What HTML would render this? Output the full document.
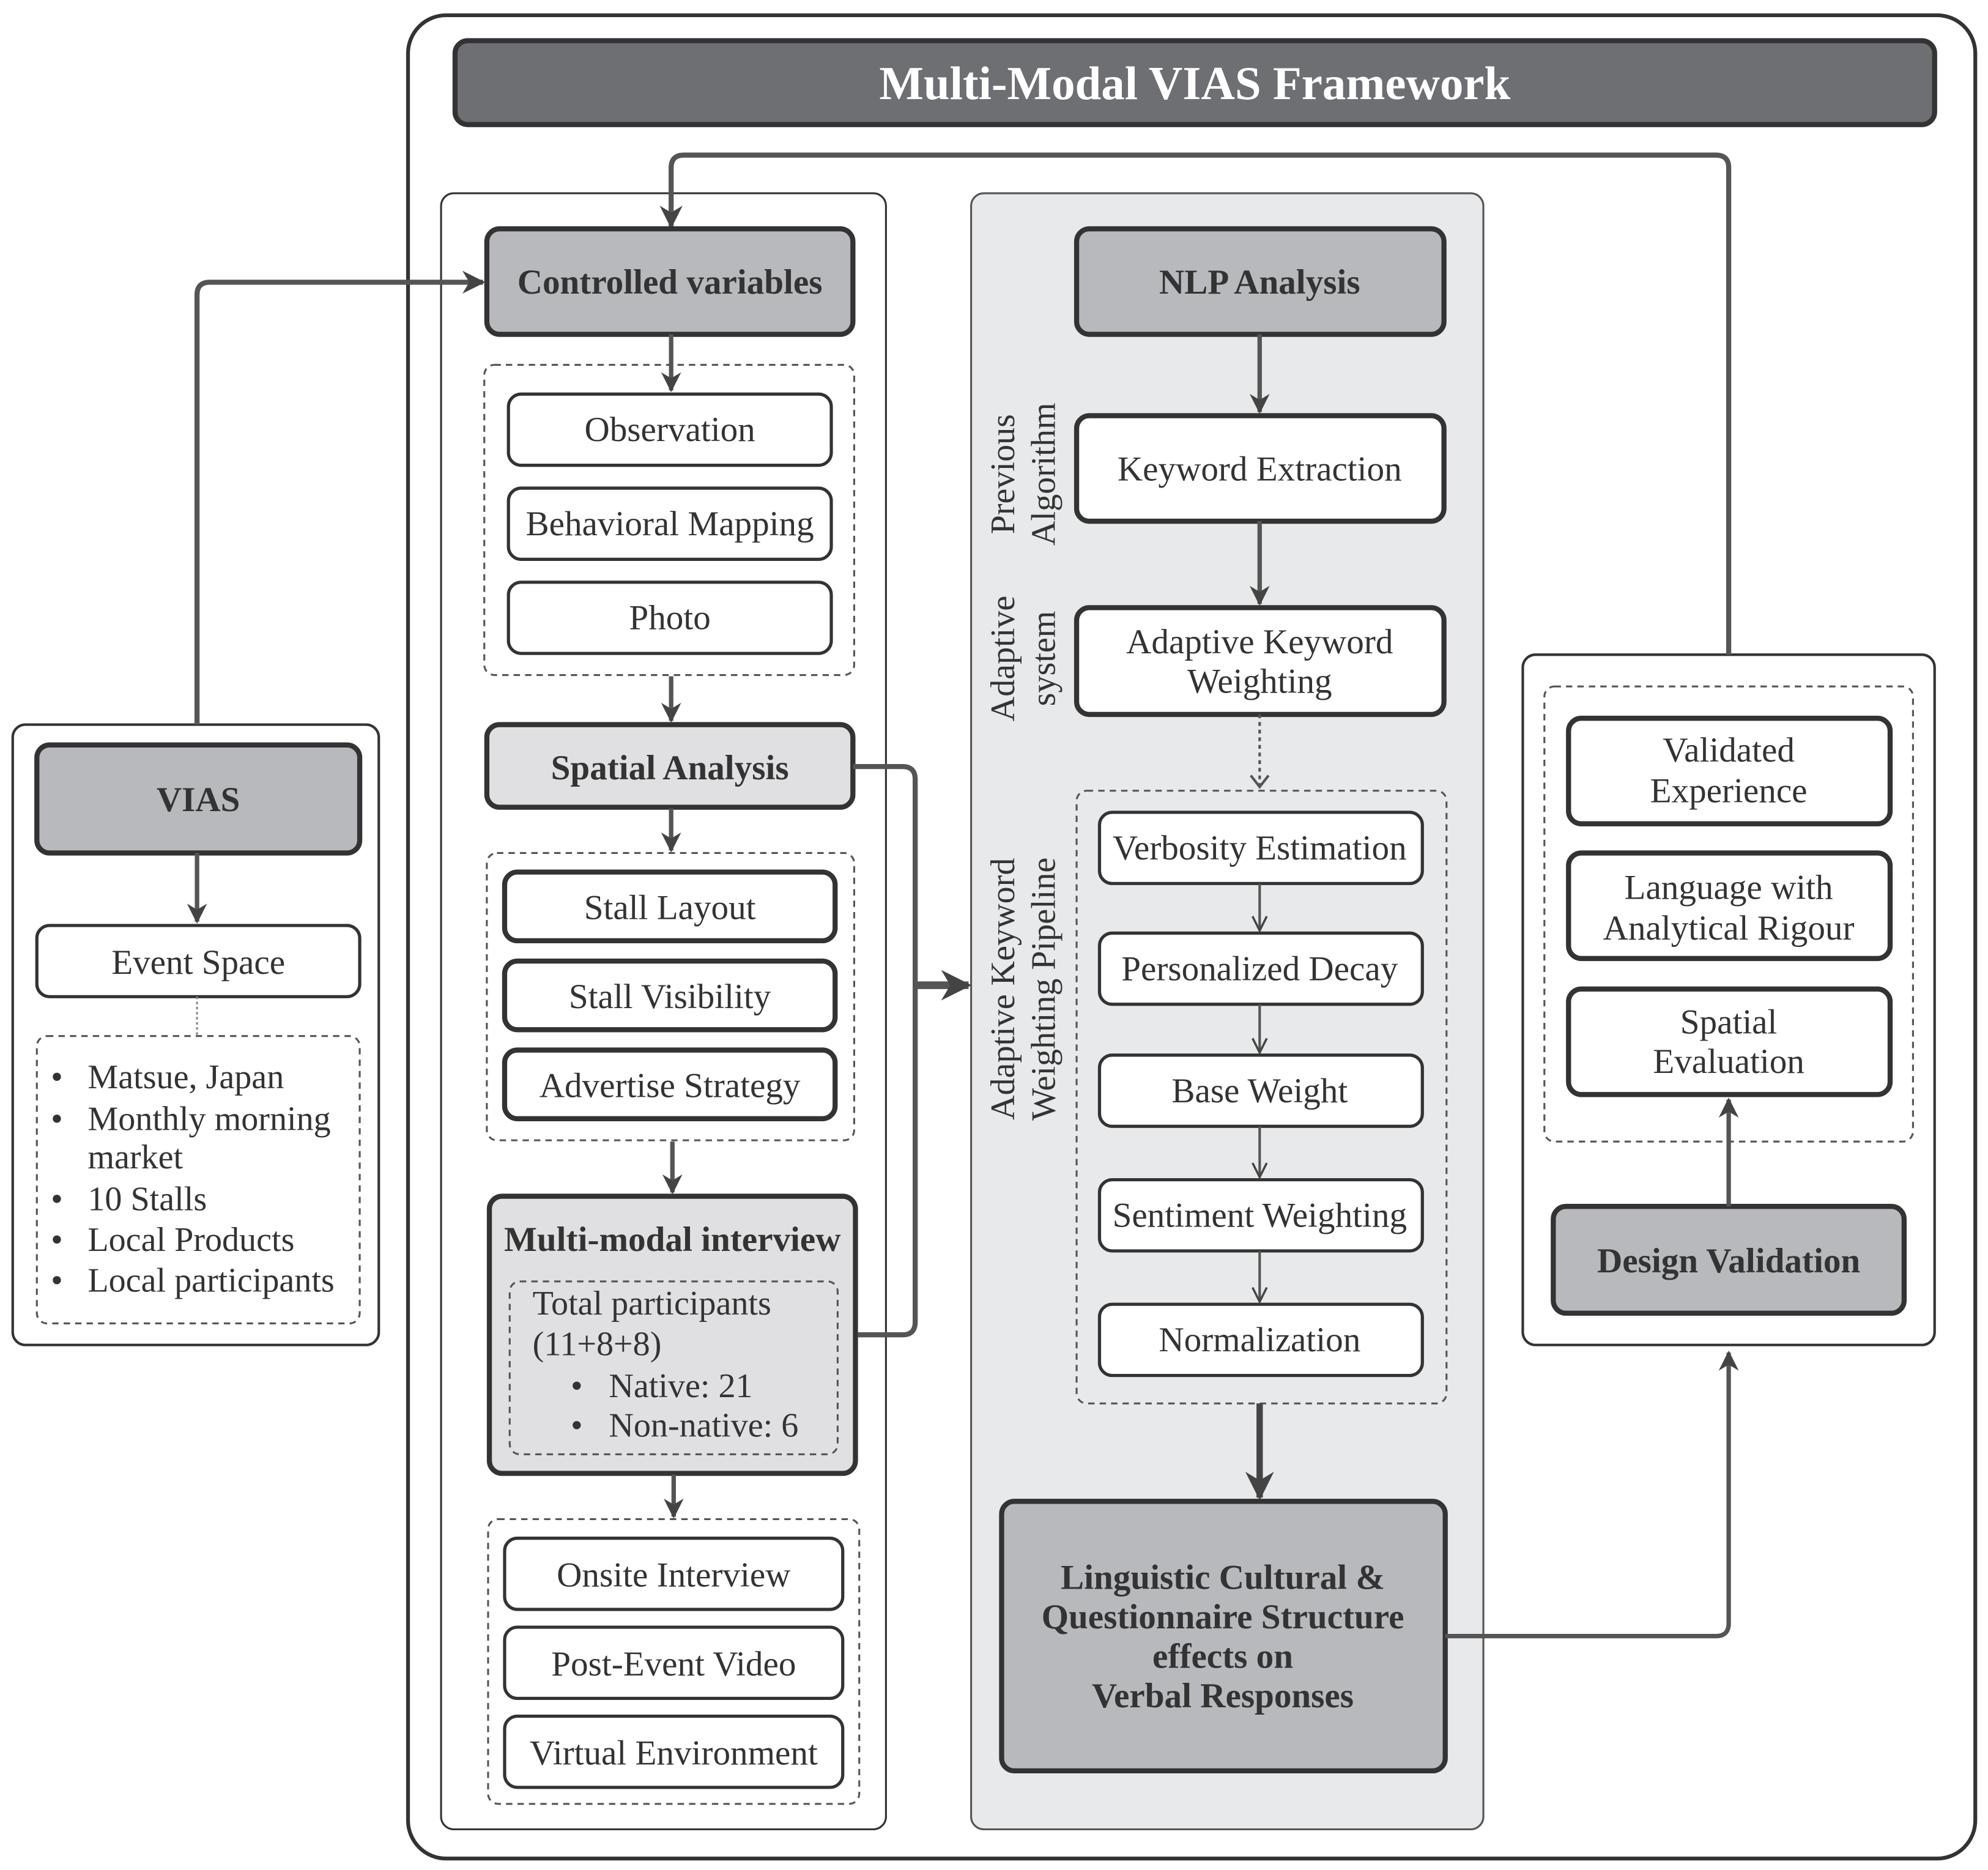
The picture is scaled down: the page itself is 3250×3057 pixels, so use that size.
<!DOCTYPE html>
<html><head><meta charset="utf-8"><style>html,body{margin:0;padding:0;background:#fff}svg{display:block}text{font-family:"Liberation Serif",serif}</style></head>
<body>
<svg width="3250" height="3057" viewBox="0 0 1564 1471" preserveAspectRatio="none" xmlns="http://www.w3.org/2000/svg">
<defs>
<marker id="a" viewBox="0 0 10 10" refX="9" refY="5" markerWidth="4.5" markerHeight="4.5" orient="auto"><path d="M0,0 L10,5 L0,10 L3,5 Z" fill="#444"/></marker>
<marker id="b" viewBox="0 0 10 10" refX="9" refY="5" markerWidth="4" markerHeight="4" orient="auto"><path d="M0,0 L10,5 L0,10 L3,5 Z" fill="#444"/></marker>
<marker id="c" viewBox="0 0 10 10" refX="9" refY="5" markerWidth="7" markerHeight="7" orient="auto"><path d="M1,1 L9,5 L1,9" fill="none" stroke="#444" stroke-width="1.2"/></marker>
</defs>
<rect x="321" y="12" width="1233" height="1450" rx="30" fill="#fff" stroke="#333" stroke-width="3"/>
<rect x="358" y="32" width="1164" height="66" rx="10" fill="#6e6f73" stroke="#333" stroke-width="4"/>
<text x="940" y="78" text-anchor="middle" font-size="37" font-weight="bold" fill="#fff">Multi-Modal VIAS Framework</text>

<rect x="347" y="152" width="350" height="1287" rx="10" fill="#fff" stroke="#333" stroke-width="1.5"/>
<rect x="764" y="152" width="403" height="1287" rx="10" fill="#e8e9ea" stroke="#555" stroke-width="1.5"/>
<rect x="1198" y="515" width="324" height="543" rx="10" fill="#fff" stroke="#333" stroke-width="2"/>
<rect x="10" y="570" width="288" height="488" rx="10" fill="#fff" stroke="#333" stroke-width="2"/>

<path d="M1360 515 V132 Q1360 122 1350 122 H538 Q528 122 528 132 V178" fill="none" stroke="#555" stroke-width="4" marker-end="url(#a)"/>
<path d="M155 570 V232 Q155 222 165 222 H380" fill="none" stroke="#555" stroke-width="4" marker-end="url(#a)"/>

<g fill="none" stroke="#555" stroke-width="1.5" stroke-dasharray="5,4">
<rect x="381" y="287" width="291" height="244" rx="8"/>
<rect x="383" y="671" width="289" height="226" rx="8"/>
<rect x="384" y="1195" width="292" height="224" rx="8"/>
<rect x="847" y="622" width="291" height="482" rx="8"/>
<rect x="1215" y="540" width="290" height="358" rx="8"/>
<rect x="29" y="815" width="254" height="226" rx="8"/>
</g>

<g stroke="#333" stroke-width="4">
<rect x="383" y="180" width="288" height="83" rx="10" fill="#b8b9bc"/>
<rect x="383" y="570" width="288" height="65" rx="10" fill="#e0e0e2"/>
<rect x="385" y="941" width="288" height="218" rx="10" fill="#e0e0e2"/>
<rect x="847" y="180" width="289" height="83" rx="10" fill="#b8b9bc"/>
<rect x="847" y="327" width="289" height="83" rx="10" fill="#fff"/>
<rect x="847" y="478" width="289" height="84" rx="10" fill="#fff"/>
<rect x="788" y="1181" width="349" height="212" rx="10" fill="#b8b9bc"/>
<rect x="29" y="586" width="254" height="85" rx="10" fill="#b8b9bc"/>
<rect x="1222" y="949" width="276" height="84" rx="10" fill="#b8b9bc"/>
<rect x="1234" y="565" width="253" height="83" rx="10" fill="#fff"/>
<rect x="1234" y="671" width="253" height="83" rx="10" fill="#fff"/>
<rect x="1234" y="778" width="253" height="83" rx="10" fill="#fff"/>
<rect x="397" y="686" width="260" height="54" rx="10" fill="#fff"/>
<rect x="397" y="756" width="260" height="54" rx="10" fill="#fff"/>
<rect x="397" y="826" width="260" height="54" rx="10" fill="#fff"/>
</g>
<rect x="401" y="1008" width="258" height="136" rx="8" fill="none" stroke="#555" stroke-width="1.5" stroke-dasharray="5,4"/>
<g stroke="#333" stroke-width="2.5" fill="#fff">
<rect x="400" y="310" width="254" height="56" rx="10"/>
<rect x="400" y="384" width="254" height="56" rx="10"/>
<rect x="400" y="458" width="254" height="56" rx="10"/>
<rect x="397" y="1210" width="266" height="56" rx="10"/>
<rect x="397" y="1280" width="266" height="56" rx="10"/>
<rect x="397" y="1350" width="266" height="56" rx="10"/>
<rect x="865" y="639" width="254" height="56" rx="10"/>
<rect x="865" y="734" width="254" height="56" rx="10"/>
<rect x="865" y="830" width="254" height="56" rx="10"/>
<rect x="865" y="928" width="254" height="56" rx="10"/>
<rect x="865" y="1026" width="254" height="56" rx="10"/>
<rect x="29" y="728" width="254" height="56" rx="10"/>
</g>

<g fill="none" stroke="#555" stroke-width="3.5" marker-end="url(#a)">
<path d="M528 263 V307"/><path d="M528 532 V567"/><path d="M528 636 V669"/><path d="M529 898 V938"/><path d="M530 1160 V1193"/>
<path d="M155 671 V725"/>
<path d="M991 263 V324"/><path d="M991 410 V475"/>
<path d="M1360 949 V865"/>
<path d="M1137 1287 H1350 Q1360 1287 1360 1277 V1064"/>
</g>
<path d="M720 775 H762" fill="none" stroke="#555" stroke-width="6" marker-end="url(#b)"/>
<path d="M991 1104 V1178" fill="none" stroke="#444" stroke-width="5" marker-end="url(#a)"/>
<path d="M671 603 H710 Q720 603 720 613 V1040 Q720 1050 710 1050 H675" fill="none" stroke="#555" stroke-width="4"/>
<path d="M991 562 V619" fill="none" stroke="#555" stroke-width="2" stroke-dasharray="3,3"/>
<path d="M984 610 L991 619 L998 610" fill="none" stroke="#555" stroke-width="2"/>
<path d="M155 784 V815" stroke="#888" stroke-width="1.5" stroke-dasharray="2,2"/>
<g fill="none" stroke="#555" stroke-width="2" marker-end="url(#c)">
<path d="M991 695 V732"/><path d="M991 790 V828"/><path d="M991 886 V926"/><path d="M991 984 V1024"/>
</g>

<g font-size="27.5" font-weight="bold" fill="#333" text-anchor="middle">
<text x="527" y="231">Controlled variables</text>
<text x="527" y="613">Spatial Analysis</text>
<text x="529" y="984">Multi-modal interview</text>
<text x="991" y="231">NLP Analysis</text>
<text x="156" y="638">VIAS</text>
<text x="1360" y="1001">Design Validation</text>
<text x="962" y="1250">Linguistic Cultural &amp;</text>
<text x="962" y="1281">Questionnaire Structure</text>
<text x="962" y="1312">effects on</text>
<text x="962" y="1343">Verbal Responses</text>
</g>
<g font-size="27.5" fill="#333" text-anchor="middle">
<text x="527" y="347">Observation</text>
<text x="527" y="421">Behavioral Mapping</text>
<text x="527" y="495">Photo</text>
<text x="527" y="723">Stall Layout</text>
<text x="527" y="793">Stall Visibility</text>
<text x="527" y="863">Advertise Strategy</text>
<text x="530" y="1248">Onsite Interview</text>
<text x="530" y="1318">Post-Event Video</text>
<text x="530" y="1388">Virtual Environment</text>
<text x="991" y="378">Keyword Extraction</text>
<text x="991" y="514">Adaptive Keyword</text>
<text x="991" y="545">Weighting</text>
<text x="991" y="676">Verbosity Estimation</text>
<text x="991" y="771">Personalized Decay</text>
<text x="991" y="867">Base Weight</text>
<text x="991" y="965">Sentiment Weighting</text>
<text x="991" y="1063">Normalization</text>
<text x="156" y="766">Event Space</text>
<text x="1360" y="599">Validated</text>
<text x="1360" y="631">Experience</text>
<text x="1360" y="707">Language with</text>
<text x="1360" y="739">Analytical Rigour</text>
<text x="1360" y="813">Spatial</text>
<text x="1360" y="844">Evaluation</text>
</g>
<g font-size="27" fill="#333">
<text x="419" y="1034">Total participants</text>
<text x="419" y="1066">(11+8+8)</text>
<text x="449" y="1099">•</text><text x="479" y="1099">Native: 21</text>
<text x="449" y="1130">•</text><text x="479" y="1130">Non-native: 6</text>
<text x="40" y="856">•</text><text x="69" y="856">Matsue, Japan</text>
<text x="40" y="889">•</text><text x="69" y="889">Monthly morning</text>
<text x="69" y="919">market</text>
<text x="40" y="952">•</text><text x="69" y="952">10 Stalls</text>
<text x="40" y="984">•</text><text x="69" y="984">Local Products</text>
<text x="40" y="1016">•</text><text x="69" y="1016">Local participants</text>
</g>
<g font-size="27" fill="#333" text-anchor="middle">
<text transform="translate(798,373) rotate(-90)">Previous</text>
<text transform="translate(830,373) rotate(-90)">Algorithm</text>
<text transform="translate(798,518) rotate(-90)">Adaptive</text>
<text transform="translate(830,518) rotate(-90)">system</text>
<text transform="translate(798,778) rotate(-90)">Adaptive Keyword</text>
<text transform="translate(830,778) rotate(-90)">Weighting Pipeline</text>
</g>
</svg>
</body></html>
